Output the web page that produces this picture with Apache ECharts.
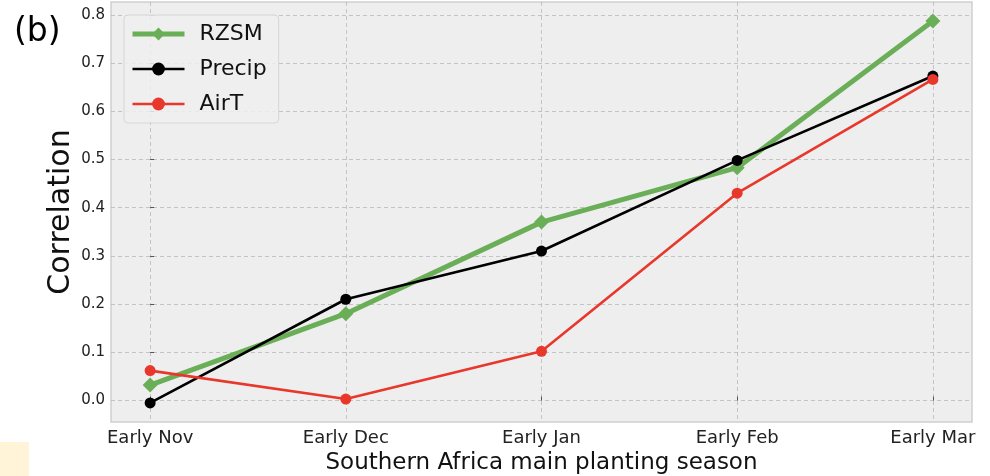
<!DOCTYPE html>
<html>
<head>
<meta charset="utf-8">
<script src="https://cdn.jsdelivr.net/npm/echarts@6/dist/echarts.min.js"></script>
<style>
  html, body { margin: 0; padding: 0; background: #ffffff; }
  #chart { width: 990px; height: 476px; }
</style>
</head>
<body>
<div id="chart"></div>
<script>
// Planting-season windows along the x axis
const periods = ['Early Nov', 'Early Dec', 'Early Jan', 'Early Feb', 'Early Mar'];

// Correlation of each predictor per window
const rzsm   = [0.032, 0.180, 0.370, 0.483, 0.787];
const precip = [-0.005, 0.210, 0.310, 0.498, 0.673];
const airT   = [0.062, 0.003, 0.102, 0.430, 0.666];

const yTicks = [0.0, 0.1, 0.2, 0.3, 0.4, 0.5, 0.6, 0.7, 0.8];

const FONT = 'DejaVu Sans';
const GREEN = '#6aaf57', BLACK = '#000000', RED = '#e8372b';
const toPairs = arr => arr.map((v, i) => [i, v]);

const chart = echarts.init(document.getElementById('chart'), null, { renderer: 'canvas' });

const gridLine = { show: true, lineStyle: { color: '#b8b8b8', type: [4, 3], width: 0.8 } };

chart.setOption({
  animation: false,
  backgroundColor: '#ffffff',
  textStyle: { fontFamily: FONT },
  grid: { left: 111, right: 18, top: 2, bottom: 54, show: true,
          outerBoundsMode: 'none', containLabel: false,
          backgroundColor: '#eeeeee', borderColor: '#cfcfcf', borderWidth: 1.5 },
  xAxis: {
    type: 'value',
    min: -0.2, max: 4.2,
    name: 'Southern Africa main planting season',
    nameLocation: 'middle',
    nameGap: 30,
    nameMoveOverlap: false,
    nameTextStyle: { fontSize: 23, color: '#111', fontFamily: FONT },
    axisLine: { show: false },
    axisTick: { show: true, inside: true, customValues: [0, 1, 2, 3, 4], length: 4,
                lineStyle: { color: '#555' } },
    axisLabel: { customValues: [0, 1, 2, 3, 4], fontSize: 18, color: '#222', margin: 7,
                 formatter: v => periods[Math.round(v)] },
    splitLine: gridLine
  },
  yAxis: {
    type: 'value',
    min: -0.0446, max: 0.8266,
    name: 'Correlation',
    nameLocation: 'middle',
    nameGap: 35,
    nameMoveOverlap: false,
    nameTextStyle: { fontSize: 30, color: '#111', fontFamily: FONT },
    axisLine: { show: false },
    axisTick: { show: true, inside: true, customValues: yTicks, length: 4,
                lineStyle: { color: '#555' } },
    axisLabel: { customValues: yTicks, fontSize: 15, color: '#222', margin: 6,
                 formatter: v => v.toFixed(1) },
    splitLine: gridLine
  },
  legend: {
    orient: 'vertical',
    left: 124, top: 15,
    padding: [8, 12, 8, 6],
    itemWidth: 52, itemHeight: 16, itemGap: 13,
    backgroundColor: 'rgba(238,238,238,0.85)',
    borderColor: '#d6d6d6', borderWidth: 1, borderRadius: 4,
    textStyle: { fontSize: 22, color: '#111', fontFamily: FONT, padding: [0, 0, 0, 10] },
    data: [
      { name: 'RZSM', lineStyle: { width: 5, color: GREEN } },
      { name: 'Precip', lineStyle: { width: 2.6, color: BLACK } },
      { name: 'AirT', lineStyle: { width: 2.6, color: RED } }
    ]
  },
  series: [
    { name: 'RZSM', type: 'line', data: toPairs(rzsm), symbol: 'diamond', symbolSize: 15,
      lineStyle: { color: GREEN, width: 5 }, itemStyle: { color: GREEN }, z: 2 },
    { name: 'Precip', type: 'line', data: toPairs(precip), symbol: 'circle', symbolSize: 11,
      lineStyle: { color: BLACK, width: 2.6 }, itemStyle: { color: BLACK }, z: 3 },
    { name: 'AirT', type: 'line', data: toPairs(airT), symbol: 'circle', symbolSize: 11,
      lineStyle: { color: RED, width: 2.6 }, itemStyle: { color: RED }, z: 4 }
  ],
  graphic: [
    { type: 'text', left: 14, top: 16,
      style: { text: '(b)', fontSize: 33, fill: '#000', fontFamily: FONT } },
    { type: 'rect', left: 0, top: 442, shape: { width: 29, height: 34 },
      style: { fill: '#fff3d8' } }
  ]
});
</script>
</body>
</html>
